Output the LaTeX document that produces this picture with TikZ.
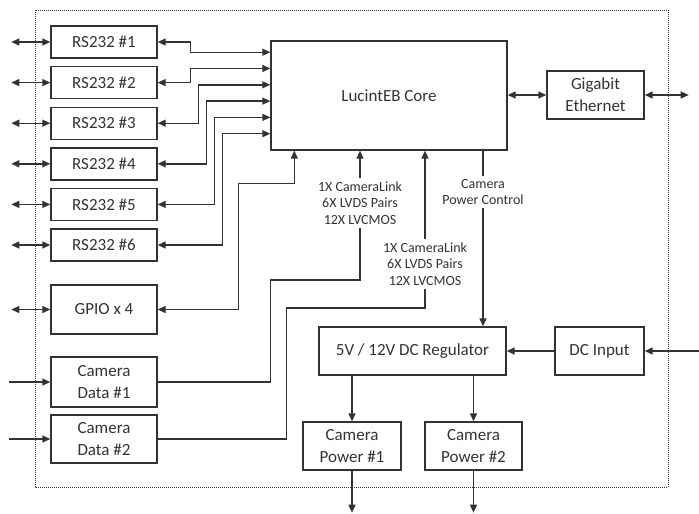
\documentclass[tikz,border=0pt]{standalone}
\usepackage{fontspec}
\setmainfont{Carlito}
\usetikzlibrary{arrows.meta,positioning,calc}
\definecolor{lnk}{RGB}{51,51,51}

\begin{document}
\begin{tikzpicture}[x=1pt,y=-1pt,
  blk/.style={draw=lnk,line width=1.4pt,minimum height=32pt,inner sep=0pt,
    text=lnk,font=\fontsize{17}{22}\selectfont,align=center},
  sig/.style={font=\fontsize{14}{16.5}\selectfont,align=center,inner sep=3pt,text=lnk},
  wire/.style={lnk,line width=1.4pt},
  arr/.style={wire,-{Triangle[length=8pt,width=7pt]}},
  dbl/.style={wire,{Triangle[length=8pt,width=7pt]}-{Triangle[length=8pt,width=7pt]}}
]
  \useasboundingbox (0,0) rectangle (699,514);
  \draw[lnk,line width=1pt,dash pattern=on 1pt off 1pt] (35,10) rectangle (668,487);

  % I/O blocks on the left
  \foreach \i in {1,...,6}
    \node[blk,minimum width=106pt] (rs\i) at (104,{42+(\i-1)*40.6}) {RS232 \#\i};
  \node[blk,minimum width=106pt,minimum height=49pt] (gpio) at (104,309.5) {GPIO x 4};
  \node[blk,minimum width=106pt,minimum height=50pt] (cam1) at (104,382) {Camera\\Data \#1};
  \node[blk,minimum width=106pt,minimum height=48pt] (cam2) at (104,439) {Camera\\Data \#2};

  % Core, ethernet and power
  \node[blk,minimum width=236pt,minimum height=109pt] (core) at (389,95.4) {LucintEB Core};
  \node[blk,minimum width=97pt,minimum height=48pt] (eth) at (595.5,95) {Gigabit\\Ethernet};
  \node[blk,minimum width=187pt,minimum height=48pt] (reg) at (412.5,351) {5V / 12V DC Regulator};
  \node[blk,minimum width=89pt,minimum height=48pt] (dcin) at (599.5,351) {DC Input};
  \node[blk,minimum width=98pt,minimum height=48pt] (pw1) at (352,446) {Camera\\Power \#1};
  \node[blk,minimum width=97pt,minimum height=48pt] (pw2) at (473.5,446) {Camera\\Power \#2};

  % Signal labels
  \node[sig] (lvds1) at (360,203) {1X CameraLink\\6X LVDS Pairs\\12X LVCMOS};
  \node[sig] (lvds2) at (425,264) {1X CameraLink\\6X LVDS Pairs\\12X LVCMOS};
  \node[sig] (pwrctl) at (483,192) {Camera\\Power Control};

  % Serial ports to the core
  \foreach \i/\bx in {1/33,2/33,3/41,4/49,5/57,6/65} {
    \draw[dbl] (rs\i.west) -- ++(-39,0);
    \draw[dbl] (rs\i.east) -- ++(\bx,0) |- ([yshift={-(12+(\i-1)*16.3)*1pt}]core.north west);
  }

  % GPIO
  \draw[dbl] (gpio.west) -- ++(-39,0);
  \draw[dbl] (gpio.east) -- ++(81,0) |- ($(core.south west)+(24,32.7)$) -- ([xshift=24pt]core.south west);

  % Camera data
  \draw[arr] ($(cam1.west)+(-41,0)$) -- (cam1.west);
  \draw[arr] ($(cam2.west)+(-41,0)$) -- (cam2.west);
  \draw[wire] (cam1.east) -| (270.7,280) -| (lvds1.south);
  \draw[arr] (lvds1.north) -- (lvds1.north |- core.south);
  \draw[wire] (cam2.east) -| (286.7,308) -| (lvds2.south);
  \draw[arr] (lvds2.north) -- (lvds2.north |- core.south);

  % Power path
  \draw[wire] (pwrctl.north |- core.south) -- (pwrctl.north);
  \draw[arr] (pwrctl.south) -- (pwrctl.south |- reg.north);
  \draw[arr] (dcin.west) -- (reg.east);
  \draw[arr] ($(dcin.east)+(55,0)$) -- (dcin.east);
  \draw[arr] (reg.south -| pw1.north) -- (pw1.north);
  \draw[arr] (reg.south -| pw2.north) -- (pw2.north);
  \draw[arr] (pw1.south) -- ++(0,42);
  \draw[arr] (pw2.south) -- ++(0,42);

  % Ethernet
  \draw[dbl] (core.east |- eth.west) -- (eth.west);
  \draw[dbl] (eth.east) -- ++(44,0);
\end{tikzpicture}
\end{document}
